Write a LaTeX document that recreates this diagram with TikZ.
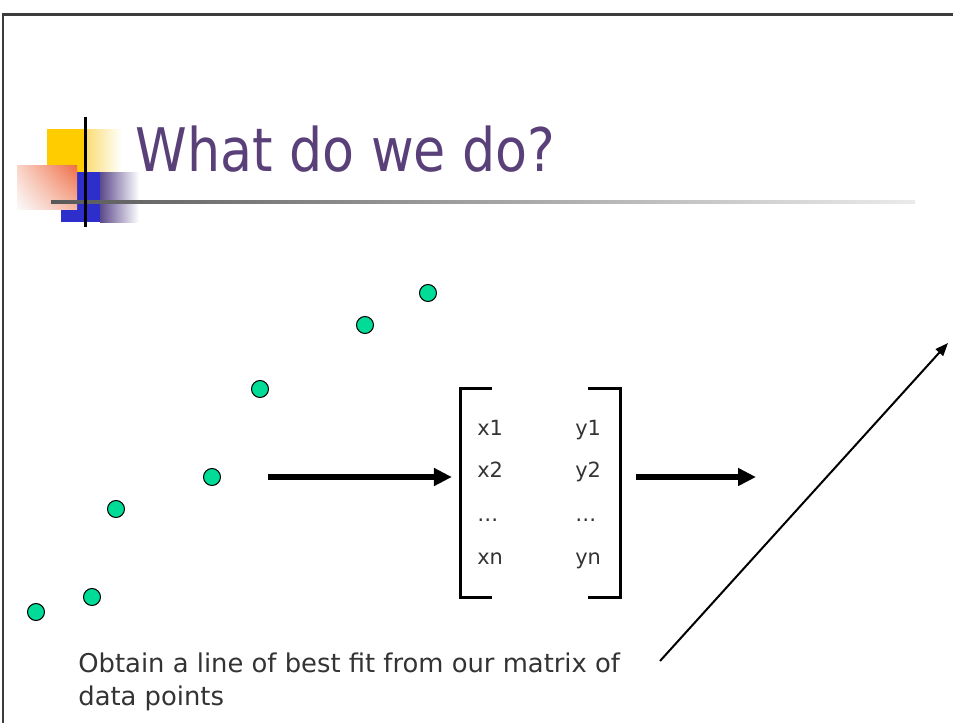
\documentclass[tikz,border=0pt]{standalone}
\usepackage{fontspec}
\setmainfont{DejaVu Sans}
\newfontfamily\titlefont[FakeStretch=0.87]{DejaVu Sans}
\usetikzlibrary{arrows.meta,shadings}
\definecolor{framegray}{RGB}{60,60,60}
\definecolor{titlepurple}{RGB}{90,64,120}
\definecolor{textgray}{RGB}{51,51,51}
\definecolor{dotgreen}{RGB}{0,220,152}
\definecolor{logoyellow}{RGB}{255,204,0}
\definecolor{logoyellowlt}{RGB}{250,222,120}
\definecolor{logoblue}{RGB}{46,46,204}
\definecolor{logopurple}{RGB}{92,74,140}
\definecolor{logoorange}{RGB}{238,110,70}
\begin{document}
\begin{tikzpicture}[x=0.02cm,y=-0.02cm,
  dot/.style={circle,draw=black,line width=0.6pt,fill=dotgreen,minimum size=0.34cm,inner sep=0},
  entry/.style={font=\fontsize{11.9}{14}\selectfont,text=textgray,anchor=base west,inner sep=0},
  bigarrow/.style={line width=0.12cm,-{Triangle[length=0.36cm,width=0.34cm]}},
  bracket/.style={line width=0.055cm}]
\useasboundingbox (0,0) rectangle (953,723);
% slide frame
\draw[framegray,line width=0.06cm] (3,723) -- (3,14.5) -- (953,14.5);
% logo
\fill[logoyellow] (47,129) rectangle (87,172);
\shade[left color=logoyellowlt,right color=white] (87,129) rectangle (122,172);
\fill[logoblue] (61,172) rectangle (100,222);
\shade[left color=logopurple,right color=white] (100,172) rectangle (139,222);
\shade[upper right=logoorange,lower left=white!96!gray,upper left=logoorange!30!white,lower right=logoorange!50!white] (17,165) rectangle (77,209);
\shade[left color=black!65,right color=black!8] (51,200.3) rectangle (915,203.1);
\draw[black,line width=0.066cm] (85.5,117) -- (85.5,227);
% title
\node[anchor=base west,inner sep=0,text=titlepurple,font=\titlefont\fontsize{34.2}{40}\selectfont] (title) at (135,172) {What do we do?};
% data points
\node[dot] (p1) at (428,293) {};
\node[dot] (p2) at (365,325) {};
\node[dot] (p3) at (260,389) {};
\node[dot] (p4) at (212,477) {};
\node[dot] (p5) at (116,509) {};
\node[dot] (p6) at (92,597) {};
\node[dot] (p7) at (36,612) {};
% matrix
\node[minimum width=3.186cm,minimum height=4.16cm,inner sep=0] (mat) at (540.4,493) {};
\draw[bracket] ([xshift=0.63cm]mat.north west) -- (mat.north west) -- (mat.south west) -- ([xshift=0.63cm]mat.south west);
\draw[bracket] ([xshift=-0.64cm]mat.north east) -- (mat.north east) -- (mat.south east) -- ([xshift=-0.64cm]mat.south east);
\node[entry] (x1) at (477,435) {x1};
\node[entry] (y1) at (575,435) {y1};
\node[entry] (x2) at (477,477) {x2};
\node[entry] (y2) at (575,477) {y2};
\node[entry] (xd) at (477,521) {…};
\node[entry] (yd) at (575,521) {…};
\node[entry] (xn) at (477,564) {xn};
\node[entry] (yn) at (575,564) {yn};
% arrows
\coordinate (a1) at (268,477);
\coordinate (a2) at (756,477);
\draw[bigarrow,shorten >=0.17cm] (a1) -- (a1 -| mat.west);
\draw[bigarrow,shorten <=0.32cm] (mat.east |- a2) -- (a2);
% line of best fit
\coordinate (fitlo) at (660,661);
\coordinate (fithi) at (948,343);
\draw[line width=0.04cm,-{Triangle[length=0.26cm,width=0.2cm]}] (fitlo) -- (fithi);
% caption
\node[anchor=base west,inner sep=0,align=left,text=textgray,font=\fontsize{14.7}{18.7}\selectfont] (caption) at (78,705) {Obtain a line of best fit from our matrix of\\data points};
\end{tikzpicture}
\end{document}
